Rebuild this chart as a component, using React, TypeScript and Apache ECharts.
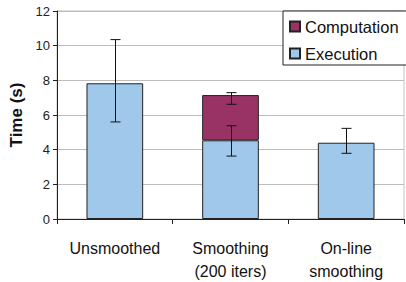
import React, { useEffect, useRef } from "react";
import * as echarts from "echarts";

const categories = ["Unsmoothed", "Smoothing\n(200 iters)", "On-line\nsmoothing"];
const execution = [7.83, 4.54, 4.4];
const computation: (number | string)[] = ["-", 2.61, "-"];
// error bars: [categoryIndex, low, high]
const errorBars = [
  [0, 5.6, 10.35],
  [1, 3.63, 5.38],
  [1, 6.62, 7.29],
  [2, 3.79, 5.23],
];
const yTicks = { min: 0, max: 12, interval: 2 };

const FONT = "'Liberation Sans', Arial, sans-serif";

export default function App() {
  const ref = useRef<HTMLDivElement>(null);
  useEffect(() => {
    if (!ref.current) return;
    document.body.style.margin = "0";
    document.body.style.overflow = "hidden";
    const chart = echarts.init(ref.current, undefined, { renderer: "svg" });
    chart.setOption({
      animation: false,
      textStyle: { fontFamily: FONT },
      grid: {
        left: 57,
        right: 2,
        top: 11,
        bottom: 63,
        outerBoundsMode: "none",
        containLabel: false,
        show: true,
        borderColor: "#c0c0c0",
        borderWidth: 1,
      },
      legend: {
        orient: "vertical",
        left: 283,
        top: 11,
        data: ["Computation", "Execution"],
        icon: "rect",
        itemWidth: 10,
        itemHeight: 10,
        itemGap: 10,
        padding: [7, 12, 3, 6],
        borderColor: "#222",
        borderWidth: 1,
        backgroundColor: "#fff",
        textStyle: { fontSize: 16.5, color: "#111", fontFamily: FONT },
      },
      xAxis: {
        type: "category",
        data: categories,
        axisLine: { lineStyle: { color: "#222", width: 1 } },
        axisTick: { show: true, length: 5, lineStyle: { color: "#222" } },
        axisLabel: {
          interval: 0,
          fontSize: 16,
          color: "#111",
          margin: 18,
          lineHeight: 23,
          fontFamily: FONT,
        },
      },
      yAxis: {
        type: "value",
        min: yTicks.min,
        max: yTicks.max,
        interval: yTicks.interval,
        name: "Time (s)",
        nameLocation: "middle",
        nameGap: 22,
        nameTextStyle: { fontSize: 17, fontWeight: "bold", color: "#111", fontFamily: FONT },
        axisLine: { show: true, lineStyle: { color: "#222", width: 1 } },
        axisTick: { show: true, length: 4, lineStyle: { color: "#222" } },
        axisLabel: { fontSize: 13, color: "#222", margin: 7, fontFamily: FONT },
        splitLine: { show: true, lineStyle: { color: "#bdbdbd", width: 1 } },
      },
      series: [
        {
          name: "Execution",
          type: "bar",
          stack: "t",
          barWidth: "49%",
          data: execution,
          itemStyle: { color: "#9fc8ea", borderColor: "#222", borderWidth: 1 },
        },
        {
          name: "Computation",
          type: "bar",
          stack: "t",
          barWidth: "49%",
          data: computation,
          itemStyle: { color: "#993366", borderColor: "#222", borderWidth: 1 },
        },
        {
          type: "custom",
          z: 10,
          silent: true,
          data: errorBars,
          renderItem: (params: any, api: any) => {
            const c = api.value(0);
            const lo = api.coord([c, api.value(1)]);
            const hi = api.coord([c, api.value(2)]);
            const x = Math.round(lo[0]) + 0.5;
            const hw = 5;
            const style = { stroke: "#111", lineWidth: 1 };
            return {
              type: "group",
              children: [
                { type: "line", shape: { x1: x, y1: lo[1], x2: x, y2: hi[1] }, style },
                { type: "line", shape: { x1: x - hw, y1: lo[1], x2: x + hw, y2: lo[1] }, style },
                { type: "line", shape: { x1: x - hw, y1: hi[1], x2: x + hw, y2: hi[1] }, style },
              ],
            };
          },
        },
      ],
    });
    return () => chart.dispose();
  }, []);
  return <div ref={ref} style={{ width: 406, height: 282 }} />;
}
